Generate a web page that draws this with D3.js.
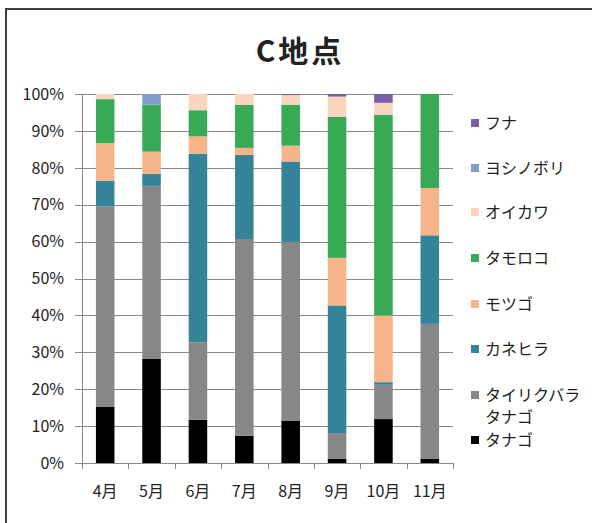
<!DOCTYPE html>
<html>
<head>
<meta charset="utf-8">
<script src="https://cdn.jsdelivr.net/npm/d3@7"></script>
<style>
  body { margin: 0; background: #fff; }
  text { font-family: "Noto Sans CJK JP", "Noto Sans", sans-serif; fill: #222; }
</style>
</head>
<body>
<div id="chart"></div>
<script>
// months on the x axis
var months = ["4月", "5月", "6月", "7月", "8月", "9月", "10月", "11月"];

// share of each species per month (%), bottom to top of the stack
var tanago     = [15.3, 28.2, 11.7,  7.4, 11.5,  1.1, 11.9,  1.1];
var tairiku    = [54.2, 46.9, 21.0, 53.3, 48.4,  7.0,  9.3, 36.6];
var kanehira   = [ 7.0,  3.3, 51.1, 22.8, 21.8, 34.6,  0.7, 24.0];
var motsugo    = [10.2,  6.0,  4.7,  1.9,  4.3, 12.9, 18.1, 12.8];
var tamoroko   = [11.9, 12.7,  7.1, 11.7, 11.1, 38.2, 54.4, 25.5];
var oikawa     = [ 1.4,  0.0,  4.4,  2.9,  2.6,  5.5,  3.2,  0.0];
var yoshinobori= [ 0.0,  2.9,  0.0,  0.0,  0.0,  0.0,  0.0,  0.0];
var funa       = [ 0.0,  0.0,  0.0,  0.0,  0.3,  0.7,  2.4,  0.0];

var yTicks = [0, 0.1, 0.2, 0.3, 0.4, 0.5, 0.6, 0.7, 0.8, 0.9, 1];

var series = [
  {key: "tanago",      name: ["タナゴ"],               color: "#000000", values: tanago},
  {key: "tairiku",     name: ["タイリクバラ", "タナゴ"], color: "#87878a", values: tairiku},
  {key: "kanehira",    name: ["カネヒラ"],             color: "#358399", values: kanehira},
  {key: "motsugo",     name: ["モツゴ"],               color: "#f5b48a", values: motsugo},
  {key: "tamoroko",    name: ["タモロコ"],             color: "#38a955", values: tamoroko},
  {key: "oikawa",      name: ["オイカワ"],             color: "#f9d5bd", values: oikawa},
  {key: "yoshinobori", name: ["ヨシノボリ"],           color: "#819dca", values: yoshinobori},
  {key: "funa",        name: ["フナ"],                 color: "#7761a3", values: funa}
];

var W = 592, H = 523;

var svg = d3.select("#chart")
  .append("svg")
    .attr("width", W)
    .attr("height", H);

// chart frame (cut off at right and bottom like the original)
svg.append("path")
  .attr("d", "M6,600 V9 H600")
  .attr("fill", "none")
  .attr("stroke", "#3f3f3f")
  .attr("stroke-width", 2);

// title
svg.append("text")
  .attr("x", 300)
  .attr("y", 62)
  .attr("text-anchor", "middle")
  .style("font-size", "30px")
  .style("font-weight", "bold")
  .style("letter-spacing", "3px")
  .text("C地点");

// build rows for the stack
var rows = months.map(function(m, i) {
  var r = {month: m};
  series.forEach(function(s) { r[s.key] = s.values[i]; });
  return r;
});

var stack = d3.stack()
  .keys(series.map(function(s) { return s.key; }))
  .offset(d3.stackOffsetExpand);
var stacked = stack(rows);

var x = d3.scaleBand()
  .domain(months)
  .range([82, 453])
  .paddingInner(0.6)
  .paddingOuter(0.3);

var y = d3.scaleLinear()
  .domain([0, 1])
  .range([463, 94]);

// gridlines
svg.append("g")
  .selectAll("line")
  .data(yTicks)
  .enter()
  .append("line")
    .attr("x1", 75)
    .attr("x2", 453)
    .attr("y1", function(d) { return Math.round(y(d)) + 0.5; })
    .attr("y2", function(d) { return Math.round(y(d)) + 0.5; })
    .attr("stroke", "#8a8a8a")
    .attr("stroke-width", 1);

// y axis labels
svg.append("g")
  .selectAll("text")
  .data(yTicks)
  .enter()
  .append("text")
    .attr("x", 64)
    .attr("y", function(d) { return y(d); })
    .attr("dy", "0.36em")
    .attr("text-anchor", "end")
    .style("font-size", "16px")
    .text(function(d) { return Math.round(d * 100) + "%"; });

// y axis line
svg.append("line")
  .attr("x1", 82.5).attr("x2", 82.5)
  .attr("y1", 94).attr("y2", 463)
  .attr("stroke", "#8a8a8a");

// bars
var layers = svg.append("g")
  .selectAll("g")
  .data(stacked)
  .enter()
  .append("g")
    .attr("fill", function(d, i) { return series[i].color; });

layers.selectAll("rect")
  .data(function(d) { return d; })
  .enter()
  .append("rect")
    .attr("x", function(d) { return x(d.data.month); })
    .attr("width", x.bandwidth())
    .attr("y", function(d) { return y(d[1]); })
    .attr("height", function(d) { return Math.max(0, y(d[0]) - y(d[1])); });

// x axis
var xb = svg.append("g");
xb.append("line")
  .attr("x1", 75).attr("x2", 453)
  .attr("y1", 463.5).attr("y2", 463.5)
  .attr("stroke", "#8a8a8a");
var bounds = months.map(function(m) { return x(m) - x.step() * 0.3; }).concat([453]);
xb.selectAll("line.tick")
  .data(bounds)
  .enter()
  .append("line")
    .attr("class", "tick")
    .attr("x1", function(d) { return Math.round(d) + 0.5; })
    .attr("x2", function(d) { return Math.round(d) + 0.5; })
    .attr("y1", 463)
    .attr("y2", 469)
    .attr("stroke", "#8a8a8a");
xb.selectAll("text")
  .data(months)
  .enter()
  .append("text")
    .attr("x", function(d) { return x(d) + x.bandwidth() / 2; })
    .attr("y", 497)
    .attr("text-anchor", "middle")
    .style("font-size", "16px")
    .text(function(d) { return d; });

// legend (top entry is the top of the stack)
var legendY = [440, 395, 349, 304, 258, 212, 168, 123];
var legend = svg.append("g")
  .selectAll("g")
  .data(series)
  .enter()
  .append("g")
    .attr("transform", function(d, i) { return "translate(471," + legendY[i] + ")"; });

legend.append("rect")
  .attr("x", 0)
  .attr("y", -4)
  .attr("width", 8)
  .attr("height", 8)
  .attr("fill", function(d) { return d.color; });

legend.each(function(d) {
  var t = d3.select(this).append("text")
    .attr("x", 14)
    .attr("y", 0)
    .attr("dy", "0.36em")
    .style("font-size", "16px");
  d.name.forEach(function(line, j) {
    t.append("tspan")
      .attr("x", 14)
      .attr("dy", j === 0 ? "0.36em" : "22px")
      .text(line);
  });
});
</script>
</body>
</html>
